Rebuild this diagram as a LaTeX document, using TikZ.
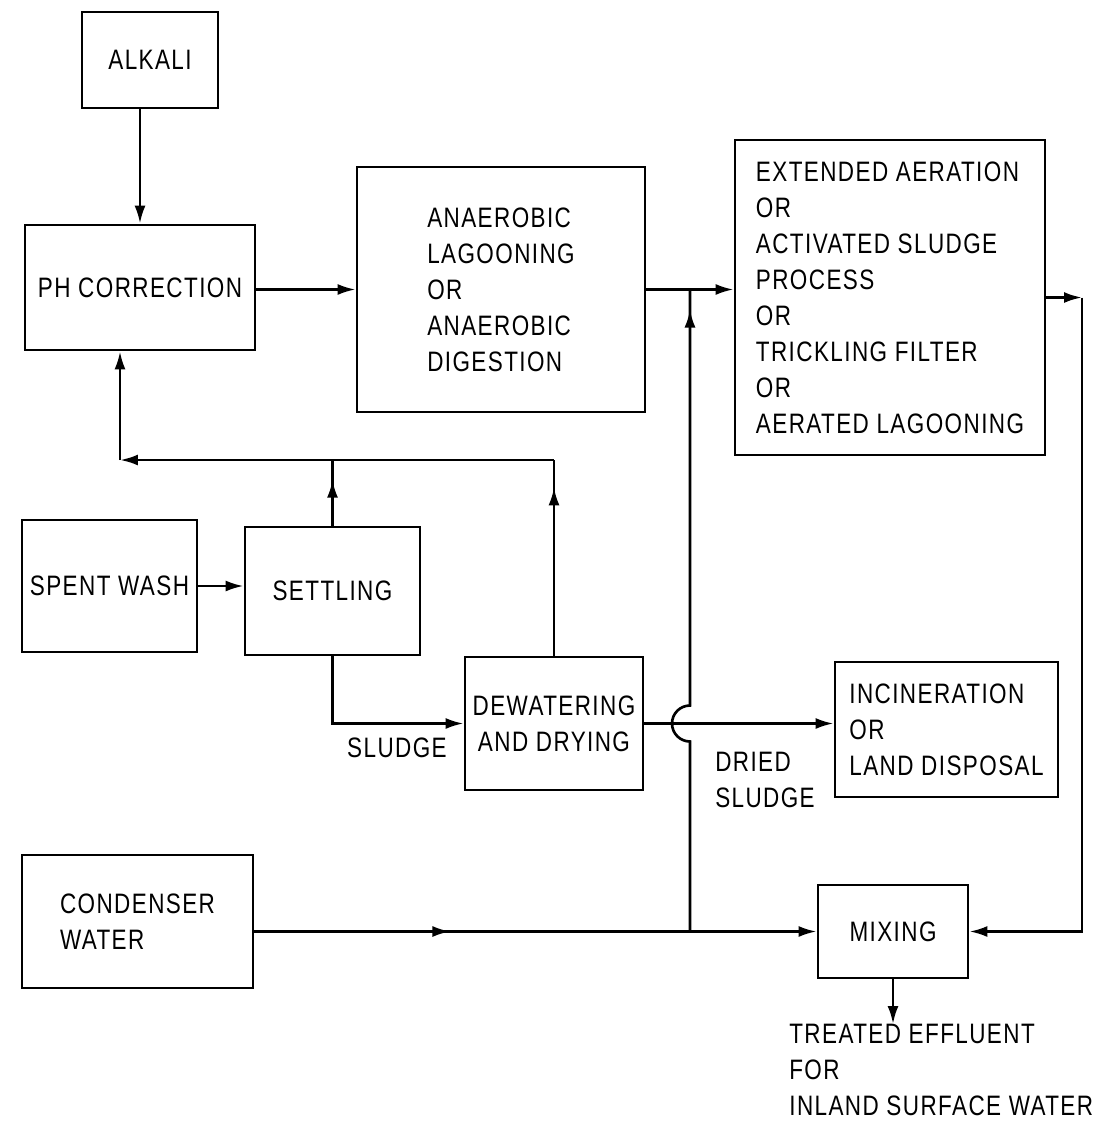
\documentclass[tikz,border=0pt]{standalone}
\usepackage{fontspec}
\setmainfont{Liberation Sans}[FakeStretch=0.8,LetterSpace=5]
\usepackage{tikz}
\usetikzlibrary{arrows.meta,calc,decorations.markings}
\tikzset{
 blk/.style={draw,line width=1.6pt,inner sep=2pt},
 flow/.style={line width=1.5pt},
 midarrow/.style={flow,postaction={decorate},decoration={markings,mark=at position #1 with {\arrow{Latex[length=3.6mm,width=2.2mm]}}}},
 midarrow/.default=0.5
}

\begin{document}
\begin{tikzpicture}[x=0.02cm,y=-0.02cm,font=\fontsize{16}{20.5}\selectfont,>={Latex[length=3.6mm,width=2.2mm]}]
\useasboundingbox (0,0) rectangle (1119,1130);
% upper row
\node[blk,minimum width=2.72cm,minimum height=1.92cm] (al) at (150,60) {ALKALI};
\node[blk,minimum width=4.6cm,minimum height=2.5cm] (ph) at (140,287.5) {PH CORRECTION};
\node[blk,minimum width=5.76cm,minimum height=4.9cm,align=left] (an) at (501,289.5) {ANAEROBIC\\LAGOONING\\OR\\ANAEROBIC\\DIGESTION};
\node[blk,minimum width=6.2cm,minimum height=6.3cm,align=left] (ext) at (890,297.5) {EXTENDED AERATION\\OR\\ACTIVATED SLUDGE\\PROCESS\\OR\\TRICKLING FILTER\\OR\\AERATED LAGOONING};
% middle row
\node[blk,minimum width=3.5cm,minimum height=2.64cm] (sw) at (109.5,586) {SPENT WASH};
\node[blk,minimum width=3.5cm,minimum height=2.56cm] (st) at (332.5,591) {SETTLING};
\node[blk,minimum width=3.56cm,minimum height=2.66cm,align=center] (dw) at (554,723.5) {DEWATERING\\AND DRYING};
\node[blk,minimum width=4.46cm,minimum height=2.7cm,align=left] (inc) at (946.5,729.5) {INCINERATION\\OR\\LAND DISPOSAL};
% lower row
\node[blk,minimum width=4.62cm,minimum height=2.66cm,align=left] (cw) at (137.5,921.5) {CONDENSER\\WATER\hphantom{SER}};
\node[blk,minimum width=3cm,minimum height=1.86cm] (mix) at (893,931.5) {MIXING};
\node[anchor=north west,align=left,inner sep=0pt] (eff) at (789,1024) {TREATED EFFLUENT\\FOR\\INLAND SURFACE WATER};
\node (sl) at (397,748) {SLUDGE};
\node[align=left] (ds) at (765,780) {DRIED\\SLUDGE};

\coordinate (tap) at ($(an.east)!0.5!(an.east -| ext.west)$);
\coordinate (tee) at (tap |- mix);
\coordinate (rt) at (1082,297.5);
\coordinate (ret) at (120,460);

% main line
\draw[flow,->] (ph.north |- al.south) -- (ph.north);
\draw[flow,->] (ph.east |- an) -- (an.west);
\draw[flow,->] (an.east) -- (an.east -| ext.west);
\draw[flow,->] (ext.east |- rt) -- (rt);
\draw[flow,->] (rt) |- (mix.east);
\draw[flow,->] (mix.south) -- (eff.north -| mix.south);
% solids
\draw[flow,->] (sw.east) -- (sw.east -| st.west);
\draw[flow,->] (st.south) |- (dw.west);
\draw[flow,->] (dw.east) -- (dw.east -| inc.west);
\draw[midarrow=0.7] (st.north) -- (st.north |- ret);
\draw[midarrow=0.86] (dw.north) -- (dw.north |- ret);
\draw[flow,->] (dw.north |- ret) -- (ret);
\draw[flow,->] (ret) -- (ret |- ph.south);
% condenser water
\draw[midarrow=0.45] (cw.east |- mix) -- (tee);
\draw[flow,->] (tee) -- (mix.west);
\draw[midarrow=-0.4cm] (tee) -- ($(tap |- dw.east)+(0,18)$) arc[start angle=-90,end angle=-270,radius=0.36cm] -- (tap);
\end{tikzpicture}
\end{document}
